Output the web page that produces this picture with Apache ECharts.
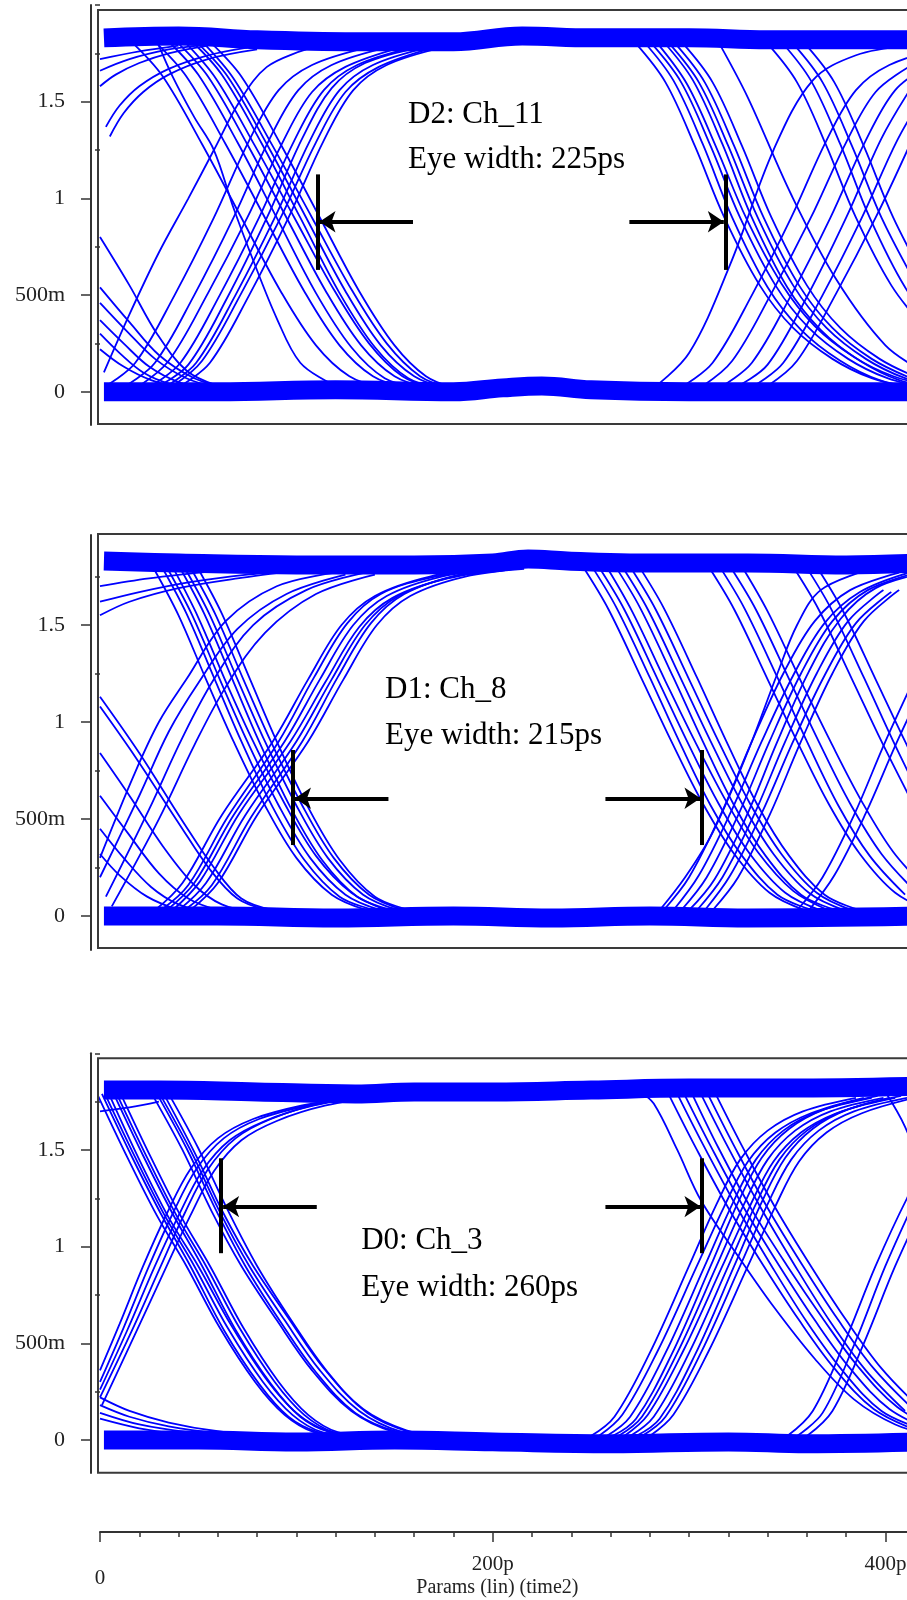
<!DOCTYPE html>
<html>
<head>
    <meta charset="UTF-8">
    <title>Eye diagrams D2 / D1 / D0</title>
    <script type="text/javascript" src="https://cdn.jsdelivr.net/npm/echarts@6/dist/echarts.min.js"></script>
</head>
<body style="margin: 0;background: #fff;">
<div id="chart" style="width: 907px;height: 1600px"></div>
<script type="text/javascript">
    // tick values / labels (time in ps, voltage in V)
    var timeTicks = [0, 200, 400];
    var timeTickLabels = ['0', '200p', '400p'];
    var voltTicks = [0, 0.5, 1, 1.5];
    var voltTickLabels = ['0', '500m', '1', '1.5'];
    var voltMinorTicks = [0.25, 0.75, 1.25, 1.75, 2];

    var channelNames = ['D2: Ch_11', 'D1: Ch_8', 'D0: Ch_3'];
    var eyeWidthTexts = ['Eye width: 225ps', 'Eye width: 215ps', 'Eye width: 260ps'];

    // ---- D2 : Ch_11 ----
    var d2High = [[2, 1.83], [40, 1.84], [80, 1.82], [130, 1.81], [180, 1.81], [215, 1.84], [250, 1.83], [300, 1.83], [340, 1.82], [380, 1.82], [420, 1.82]];
    var d2Low = [[2, 0.0], [60, 0.0], [120, 0.01], [180, 0.0], [205, 0.02], [225, 0.03], [250, 0.01], [300, 0.0], [360, 0.0], [420, 0.0]];
    var d2Edges = [
        [[0, 0.80], [15, 0.55], [29, 0.30], [44, 0.11], [60, 0.03]],
        [[0, 0.54], [15, 0.36], [30, 0.19], [48, 0.07], [65, 0.02]],
        [[0, 0.46], [14, 0.31], [28, 0.17], [44, 0.07], [60, 0.02]],
        [[0, 0.37], [12, 0.25], [25, 0.13], [40, 0.05], [55, 0.02]],
        [[0, 0.30], [10, 0.20], [22, 0.10], [36, 0.04], [50, 0.02]],
        [[0, 0.22], [12, 0.13], [26, 0.06], [42, 0.02]],
        [[0, 1.58], [8, 1.64], [20, 1.70], [35, 1.75], [55, 1.79]],
        [[5, 1.32], [12, 1.44], [22, 1.55], [35, 1.64], [55, 1.72], [80, 1.77]],
        [[3, 1.37], [10, 1.48], [20, 1.58], [35, 1.67], [55, 1.74], [75, 1.78]],
        [[0, 1.66], [15, 1.72], [35, 1.77], [50, 1.79]],
        [[0, 1.72], [20, 1.76], [40, 1.79]],
        [[2, 0.10], [15, 0.40], [30, 0.72], [45, 1.0], [58, 1.25], [71, 1.50], [85, 1.68], [105, 1.77]],
        [[30, 1.79], [37, 1.63], [48, 1.42], [58, 1.25], [68, 0.95], [78, 0.68], [90, 0.38], [102, 0.15], [118, 0.04]],
        // falling, first crossing
        [[17, 1.80], [32, 1.63], [52, 1.28], [72, 0.9], [92, 0.52], [110, 0.24], [127, 0.08], [144, 0.02]],
        [[29, 1.80], [44, 1.63], [64, 1.28], [84, 0.9], [104, 0.52], [122, 0.24], [139, 0.08], [156, 0.02]],
        [[35, 1.81], [50, 1.64], [70, 1.29], [90, 0.9], [110, 0.51], [128, 0.23], [145, 0.07], [162, 0.02]],
        [[40, 1.80], [55, 1.63], [75, 1.28], [95, 0.9], [115, 0.52], [133, 0.24], [150, 0.08], [167, 0.02]],
        [[44, 1.80], [59, 1.62], [79, 1.27], [99, 0.9], [119, 0.53], [137, 0.25], [154, 0.08], [170, 0.02]],
        [[47, 1.81], [62, 1.64], [82, 1.29], [102, 0.9], [122, 0.51], [140, 0.23], [157, 0.07], [173, 0.02]],
        [[50, 1.80], [65, 1.63], [85, 1.28], [105, 0.9], [125, 0.52], [143, 0.24], [160, 0.08], [176, 0.02]],
        [[53, 1.80], [68, 1.62], [88, 1.27], [108, 0.9], [128, 0.53], [146, 0.25], [163, 0.08], [178, 0.02]],
        [[57, 1.80], [72, 1.63], [92, 1.28], [112, 0.9], [132, 0.52], [150, 0.24], [166, 0.08], [180, 0.02]],
        // rising, first crossing
        [[3, 0.03], [18, 0.15], [38, 0.5], [58, 0.9], [76, 1.3], [91, 1.56], [108, 1.69], [136, 1.78]],
        [[13, 0.03], [28, 0.15], [48, 0.5], [68, 0.9], [86, 1.3], [101, 1.56], [118, 1.69], [146, 1.78]],
        [[20, 0.03], [35, 0.16], [55, 0.51], [75, 0.9], [93, 1.29], [108, 1.55], [125, 1.68], [153, 1.78]],
        [[26, 0.03], [41, 0.15], [61, 0.5], [81, 0.9], [99, 1.3], [114, 1.56], [131, 1.69], [159, 1.78]],
        [[30, 0.03], [45, 0.14], [65, 0.49], [85, 0.9], [103, 1.31], [118, 1.57], [135, 1.70], [163, 1.78]],
        [[34, 0.03], [49, 0.15], [69, 0.5], [89, 0.9], [107, 1.3], [122, 1.56], [139, 1.69], [167, 1.78]],
        [[37, 0.03], [52, 0.16], [72, 0.51], [92, 0.9], [110, 1.29], [125, 1.55], [142, 1.68], [170, 1.78]],
        [[41, 0.03], [56, 0.15], [76, 0.5], [96, 0.9], [114, 1.3], [129, 1.56], [146, 1.69], [174, 1.78]],
        // falling, second crossing
        [[273, 1.80], [288, 1.60], [303, 1.27], [318, 0.9], [336, 0.55], [353, 0.33], [373, 0.17], [393, 0.07], [413, 0.02]],
        [[277, 1.81], [292, 1.61], [307, 1.28], [322, 0.9], [340, 0.54], [357, 0.32], [377, 0.16], [397, 0.06], [417, 0.02]],
        [[281, 1.80], [296, 1.60], [311, 1.27], [326, 0.9], [344, 0.55], [361, 0.33], [381, 0.17], [401, 0.07], [421, 0.02]],
        [[284, 1.80], [299, 1.59], [314, 1.26], [329, 0.9], [347, 0.56], [364, 0.34], [384, 0.18], [404, 0.08], [424, 0.03]],
        [[287, 1.81], [302, 1.61], [317, 1.28], [332, 0.9], [350, 0.54], [367, 0.32], [387, 0.16], [407, 0.06], [427, 0.02]],
        [[290, 1.80], [305, 1.60], [320, 1.27], [335, 0.9], [353, 0.55], [370, 0.33], [390, 0.17], [410, 0.07], [430, 0.02]],
        [[293, 1.80], [308, 1.60], [323, 1.27], [338, 0.9], [356, 0.55], [373, 0.33], [393, 0.17], [413, 0.07]],
        [[297, 1.80], [312, 1.60], [327, 1.27], [342, 0.9], [360, 0.55], [377, 0.33], [397, 0.17], [417, 0.07]],
        [[340, 1.80], [355, 1.60], [370, 1.27], [385, 0.9], [403, 0.55], [420, 0.33]],
        [[347, 1.81], [362, 1.61], [377, 1.28], [392, 0.9], [410, 0.54], [427, 0.32]],
        [[353, 1.80], [368, 1.60], [383, 1.27], [398, 0.9], [416, 0.55]],
        [[359, 1.80], [374, 1.60], [389, 1.27], [404, 0.9], [422, 0.55]],
        [[316, 1.79], [330, 1.52], [352, 1.02], [375, 0.58], [400, 0.24], [420, 0.10]],
        // rising, second crossing
        [[282, 0.02], [300, 0.20], [321, 0.66], [343, 1.25], [363, 1.61], [385, 1.74], [411, 1.79]],
        [[297, 0.03], [312, 0.15], [332, 0.5], [352, 0.9], [370, 1.3], [385, 1.56], [402, 1.69], [430, 1.78]],
        [[307, 0.03], [322, 0.16], [342, 0.51], [362, 0.9], [380, 1.29], [395, 1.55], [412, 1.68]],
        [[317, 0.03], [332, 0.15], [352, 0.5], [372, 0.9], [390, 1.3], [405, 1.56], [422, 1.69]],
        [[325, 0.03], [340, 0.14], [360, 0.49], [380, 0.9], [398, 1.31], [413, 1.57]],
        [[333, 0.03], [348, 0.15], [368, 0.5], [388, 0.9], [406, 1.3], [421, 1.56]],
        [[340, 0.03], [355, 0.16], [375, 0.51], [395, 0.9], [413, 1.29]]
    ];

    // ---- D1 : Ch_8 ----
    var d1High = [[2, 1.83], [40, 1.82], [100, 1.81], [160, 1.81], [200, 1.82], [218, 1.84], [238, 1.83], [270, 1.82], [330, 1.82], [380, 1.81], [420, 1.82]];
    var d1Low = [[2, 0.0], [60, 0.0], [120, -0.01], [180, 0.0], [230, -0.01], [280, 0.0], [330, -0.01], [420, 0.0]];
    var d1Edges = [
        [[0, 1.13], [20, 0.84], [42, 0.49], [58, 0.25], [72, 0.09], [88, 0.03]],
        [[0, 1.08], [18, 0.82], [40, 0.48], [56, 0.24], [70, 0.09], [85, 0.03]],
        [[0, 0.84], [15, 0.62], [32, 0.36], [48, 0.16], [62, 0.06], [78, 0.02]],
        [[0, 0.62], [14, 0.43], [30, 0.22], [45, 0.09], [60, 0.03]],
        [[0, 0.45], [12, 0.30], [26, 0.15], [40, 0.06], [55, 0.02]],
        [[0, 0.32], [10, 0.21], [24, 0.10], [40, 0.03]],
        [[0, 0.30], [17, 0.72], [30, 1.0], [44, 1.22], [64, 1.52], [90, 1.70], [120, 1.77]],
        [[0, 0.20], [20, 0.62], [35, 0.95], [50, 1.20], [70, 1.48], [95, 1.66], [125, 1.76]],
        [[3, 0.10], [25, 0.55], [42, 0.92], [58, 1.22], [78, 1.50], [105, 1.68], [135, 1.77]],
        [[6, 0.05], [30, 0.50], [48, 0.88], [64, 1.18], [84, 1.46], [110, 1.66], [140, 1.76]],
        [[0, 1.62], [20, 1.67], [45, 1.72], [75, 1.76], [110, 1.79]],
        [[0, 1.70], [25, 1.74], [60, 1.78]],
        [[0, 1.55], [15, 1.62], [40, 1.69], [70, 1.74], [100, 1.78]],
        // falling band
        [[28, 1.78], [40, 1.55], [54, 1.22], [68, 0.9], [84, 0.57], [100, 0.30], [118, 0.11], [136, 0.03]],
        [[32, 1.79], [44, 1.56], [58, 1.23], [72, 0.9], [88, 0.56], [104, 0.29], [122, 0.10], [140, 0.03]],
        [[35, 1.78], [47, 1.55], [61, 1.22], [75, 0.9], [91, 0.57], [107, 0.30], [125, 0.11], [143, 0.03]],
        [[38, 1.78], [50, 1.54], [64, 1.21], [78, 0.9], [94, 0.58], [110, 0.31], [128, 0.12], [146, 0.03]],
        [[41, 1.79], [53, 1.56], [67, 1.23], [81, 0.9], [97, 0.56], [113, 0.29], [131, 0.10], [149, 0.03]],
        [[44, 1.78], [56, 1.55], [70, 1.22], [84, 0.9], [100, 0.57], [116, 0.30], [134, 0.11], [152, 0.03]],
        [[47, 1.78], [59, 1.55], [73, 1.22], [87, 0.9], [103, 0.57], [119, 0.30], [137, 0.11], [155, 0.03]],
        [[50, 1.79], [62, 1.56], [76, 1.23], [90, 0.9], [106, 0.56], [122, 0.29], [140, 0.10], [158, 0.03]],
        // rising band
        [[28, 0.03], [42, 0.17], [62, 0.52], [88, 0.9], [106, 1.22], [123, 1.50], [140, 1.65], [168, 1.75], [198, 1.79]],
        [[31, 0.03], [45, 0.16], [65, 0.51], [91, 0.9], [109, 1.23], [126, 1.51], [143, 1.66], [171, 1.75], [201, 1.79]],
        [[34, 0.03], [48, 0.17], [68, 0.52], [94, 0.9], [112, 1.22], [129, 1.50], [146, 1.65], [174, 1.75], [204, 1.79]],
        [[37, 0.03], [51, 0.18], [71, 0.53], [97, 0.9], [115, 1.21], [132, 1.49], [149, 1.64], [177, 1.74], [207, 1.79]],
        [[40, 0.03], [54, 0.17], [74, 0.52], [100, 0.9], [118, 1.22], [135, 1.50], [152, 1.65], [180, 1.75], [210, 1.79]],
        [[43, 0.03], [57, 0.16], [77, 0.51], [103, 0.9], [121, 1.23], [138, 1.51], [155, 1.66], [183, 1.76], [213, 1.80]],
        [[46, 0.03], [60, 0.17], [80, 0.52], [106, 0.9], [124, 1.22], [141, 1.50], [158, 1.65], [186, 1.75], [216, 1.79]],
        // falling, right side
        [[246, 1.80], [259, 1.58], [276, 1.22], [291, 0.9], [307, 0.58], [323, 0.32], [341, 0.12], [359, 0.03]],
        [[250, 1.81], [263, 1.59], [280, 1.23], [295, 0.9], [311, 0.57], [327, 0.31], [345, 0.11], [363, 0.03]],
        [[254, 1.80], [267, 1.58], [284, 1.22], [299, 0.9], [315, 0.58], [331, 0.32], [349, 0.12], [367, 0.03]],
        [[258, 1.80], [271, 1.57], [288, 1.21], [303, 0.9], [319, 0.59], [335, 0.33], [353, 0.13], [371, 0.03]],
        [[262, 1.81], [275, 1.59], [292, 1.23], [307, 0.9], [323, 0.57], [339, 0.31], [357, 0.11], [375, 0.03]],
        [[266, 1.80], [279, 1.58], [296, 1.22], [311, 0.9], [327, 0.58], [343, 0.32], [361, 0.12], [379, 0.03]],
        [[270, 1.80], [283, 1.58], [300, 1.22], [315, 0.9], [331, 0.58], [347, 0.32], [365, 0.12], [383, 0.03]],
        [[274, 1.81], [287, 1.59], [304, 1.23], [319, 0.9], [335, 0.57], [351, 0.31], [369, 0.11], [387, 0.03]],
        [[310, 1.80], [323, 1.58], [340, 1.22], [355, 0.9], [371, 0.58], [387, 0.32], [405, 0.12], [423, 0.03]],
        [[315, 1.81], [328, 1.59], [345, 1.23], [360, 0.9], [376, 0.57], [392, 0.31], [410, 0.11]],
        [[321, 1.80], [334, 1.58], [351, 1.22], [366, 0.9], [382, 0.58], [398, 0.32], [416, 0.12]],
        [[327, 1.80], [340, 1.57], [357, 1.21], [372, 0.9], [388, 0.59], [404, 0.33], [422, 0.13]],
        [[353, 1.80], [366, 1.58], [383, 1.22], [398, 0.9], [414, 0.58]],
        [[359, 1.81], [372, 1.59], [389, 1.23], [404, 0.9], [420, 0.57]],
        [[365, 1.80], [378, 1.58], [395, 1.22], [410, 0.9], [426, 0.58]],
        // rising, right side
        [[285, 0.03], [298, 0.20], [312, 0.43], [330, 0.85], [345, 1.25], [355, 1.50], [367, 1.68], [390, 1.78]],
        [[287, 0.03], [300, 0.20], [316, 0.52], [332, 0.9], [348, 1.25], [364, 1.52], [382, 1.68], [407, 1.77]],
        [[292, 0.03], [305, 0.21], [321, 0.53], [337, 0.9], [353, 1.24], [369, 1.51], [387, 1.67], [412, 1.77]],
        [[296, 0.03], [309, 0.20], [325, 0.52], [341, 0.9], [357, 1.25], [373, 1.52], [391, 1.68], [416, 1.77]],
        [[300, 0.03], [313, 0.19], [329, 0.51], [345, 0.9], [361, 1.26], [377, 1.53], [395, 1.69], [420, 1.77]],
        [[304, 0.03], [317, 0.20], [333, 0.52], [349, 0.9], [365, 1.25], [381, 1.52], [399, 1.68]],
        [[308, 0.03], [321, 0.21], [337, 0.53], [353, 0.9], [369, 1.24], [385, 1.51], [403, 1.67]],
        [[312, 0.03], [325, 0.20], [341, 0.52], [357, 0.9], [373, 1.25], [389, 1.52], [407, 1.68]],
        [[355, 0.03], [368, 0.20], [384, 0.52], [400, 0.9], [416, 1.25]],
        [[361, 0.03], [374, 0.21], [390, 0.53], [406, 0.9], [422, 1.24]]
    ];

    // ---- D0 : Ch_3 ----
    var d0High = [[2, 1.81], [30, 1.81], [80, 1.80], [130, 1.79], [160, 1.80], [200, 1.80], [250, 1.81], [300, 1.82], [350, 1.82], [420, 1.83]];
    var d0Low = [[2, 0.0], [50, 0.0], [100, -0.01], [150, 0.0], [200, -0.01], [260, -0.02], [320, -0.01], [360, -0.02], [420, -0.01]];
    var d0Edges = [
        // falling band 1
        [[-1, 1.78], [14, 1.46], [29, 1.16], [44, 0.9], [61, 0.58], [79, 0.30], [94, 0.13], [109, 0.04], [129, 0.01]],
        [[1, 1.79], [16, 1.47], [31, 1.17], [46, 0.9], [63, 0.57], [81, 0.29], [96, 0.12], [111, 0.04], [131, 0.01]],
        [[3, 1.78], [18, 1.46], [33, 1.16], [48, 0.9], [65, 0.58], [83, 0.30], [98, 0.13], [113, 0.04], [133, 0.01]],
        [[5, 1.78], [20, 1.45], [35, 1.15], [50, 0.9], [67, 0.59], [85, 0.31], [100, 0.14], [115, 0.05], [135, 0.01]],
        [[7, 1.79], [22, 1.47], [37, 1.17], [52, 0.9], [69, 0.57], [87, 0.29], [102, 0.12], [117, 0.04], [137, 0.01]],
        [[9, 1.78], [24, 1.46], [39, 1.16], [54, 0.9], [71, 0.58], [89, 0.30], [104, 0.13], [119, 0.04], [139, 0.01]],
        [[11, 1.78], [26, 1.46], [41, 1.16], [56, 0.9], [73, 0.58], [91, 0.30], [106, 0.13], [121, 0.04], [141, 0.01]],
        // falling band 2
        [[27, 1.78], [42, 1.50], [57, 1.18], [72, 0.9], [90, 0.62], [108, 0.36], [128, 0.15], [150, 0.04], [172, 0.01]],
        [[29, 1.79], [44, 1.51], [59, 1.19], [74, 0.9], [92, 0.61], [110, 0.35], [130, 0.14], [152, 0.04], [174, 0.01]],
        [[31, 1.78], [46, 1.50], [61, 1.18], [76, 0.9], [94, 0.62], [112, 0.36], [132, 0.15], [154, 0.04], [176, 0.01]],
        [[33, 1.78], [48, 1.49], [63, 1.17], [78, 0.9], [96, 0.63], [114, 0.37], [134, 0.16], [156, 0.05], [178, 0.01]],
        [[35, 1.79], [50, 1.51], [65, 1.19], [80, 0.9], [98, 0.61], [116, 0.35], [136, 0.14], [158, 0.04], [180, 0.01]],
        // rising from the left edge
        [[0, 0.36], [10, 0.60], [22, 0.9], [34, 1.17], [46, 1.40], [60, 1.56], [78, 1.66], [103, 1.73], [133, 1.78]],
        [[0, 0.30], [12, 0.58], [25, 0.9], [37, 1.17], [49, 1.40], [63, 1.56], [81, 1.66], [106, 1.73], [136, 1.78]],
        [[0, 0.26], [14, 0.57], [28, 0.9], [40, 1.16], [52, 1.39], [66, 1.55], [84, 1.65], [109, 1.73], [139, 1.78]],
        [[0, 0.22], [16, 0.56], [31, 0.9], [43, 1.17], [55, 1.40], [69, 1.56], [87, 1.66], [112, 1.74], [142, 1.78]],
        [[1, 0.18], [18, 0.55], [34, 0.9], [46, 1.16], [58, 1.39], [72, 1.55], [90, 1.65], [115, 1.73], [145, 1.78]],
        [[0, 0.22], [15, 0.15], [35, 0.09], [60, 0.045], [90, 0.02]],
        [[0, 0.18], [15, 0.12], [35, 0.07], [60, 0.035], [85, 0.02]],
        [[0, 0.14], [20, 0.08], [45, 0.04], [70, 0.02]],
        [[0, 0.11], [20, 0.06], [40, 0.03]],
        [[0, 1.70], [15, 1.72], [30, 1.75]],
        // falling, right side
        [[275, 1.80], [282, 1.74], [294, 1.50], [306, 1.24], [325, 0.95], [343, 0.69], [364, 0.42], [384, 0.21], [405, 0.08], [425, 0.02]],
        [[290, 1.78], [303, 1.52], [320, 1.2], [338, 0.9], [356, 0.62], [374, 0.37], [394, 0.16], [416, 0.05]],
        [[294, 1.79], [307, 1.53], [324, 1.21], [342, 0.9], [360, 0.61], [378, 0.36], [398, 0.15], [420, 0.05]],
        [[298, 1.78], [311, 1.52], [328, 1.2], [346, 0.9], [364, 0.62], [382, 0.37], [402, 0.16], [424, 0.05]],
        [[302, 1.78], [315, 1.51], [332, 1.19], [350, 0.9], [368, 0.63], [386, 0.38], [406, 0.17], [428, 0.05]],
        [[306, 1.79], [319, 1.53], [336, 1.21], [354, 0.9], [372, 0.61], [390, 0.36], [410, 0.15]],
        [[310, 1.78], [323, 1.52], [340, 1.2], [358, 0.9], [376, 0.62], [394, 0.37], [414, 0.16]],
        [[314, 1.78], [327, 1.52], [344, 1.2], [362, 0.9], [380, 0.62], [398, 0.37], [418, 0.16]],
        // rising, right side
        [[250, 0.02], [262, 0.12], [280, 0.45], [300, 0.9], [314, 1.22], [326, 1.45], [340, 1.60], [358, 1.70], [385, 1.77]],
        [[254, 0.02], [266, 0.13], [284, 0.46], [304, 0.9], [318, 1.21], [330, 1.44], [344, 1.59], [362, 1.69], [389, 1.77]],
        [[258, 0.02], [270, 0.12], [288, 0.45], [308, 0.9], [322, 1.22], [334, 1.45], [348, 1.60], [366, 1.70], [393, 1.77]],
        [[261, 0.02], [273, 0.11], [291, 0.44], [311, 0.9], [325, 1.23], [337, 1.46], [351, 1.61], [369, 1.71], [396, 1.78]],
        [[264, 0.02], [276, 0.12], [294, 0.45], [314, 0.9], [328, 1.22], [340, 1.45], [354, 1.60], [372, 1.70], [399, 1.77]],
        [[267, 0.02], [279, 0.13], [297, 0.46], [317, 0.9], [331, 1.21], [343, 1.44], [357, 1.59], [375, 1.69], [402, 1.77]],
        [[270, 0.02], [282, 0.12], [300, 0.45], [320, 0.9], [334, 1.22], [346, 1.45], [360, 1.60], [378, 1.70], [405, 1.77]],
        [[273, 0.02], [285, 0.11], [303, 0.44], [323, 0.9], [337, 1.23], [349, 1.46], [363, 1.61], [381, 1.71], [408, 1.78]],
        [[276, 0.02], [288, 0.12], [306, 0.45], [326, 0.9], [340, 1.22], [352, 1.45], [366, 1.60], [384, 1.70], [411, 1.77]],
        [[280, 0.02], [292, 0.13], [310, 0.46], [330, 0.9], [344, 1.21], [356, 1.44], [370, 1.59], [388, 1.69], [415, 1.77]],
        [[350, 0.02], [363, 0.15], [379, 0.5], [395, 0.9], [411, 1.25], [425, 1.5]],
        [[355, 0.02], [368, 0.14], [384, 0.49], [400, 0.9], [416, 1.26]],
        [[360, 0.02], [373, 0.15], [389, 0.5], [405, 0.9], [421, 1.25]],
        [[400, 1.80], [410, 1.62], [420, 1.35]]
    ];

    // eye-width markers, in ps / V of each panel
    var eyeMarks = [
        {leftBar: 110.8, leftTip: 111.8, leftTail: 159.4, rightTail: 269.6, rightTip: 317.7, rightBar: 318.7, low: 0.63, high: 1.124, arrow: 0.879, textT: 156.9, textV: [1.434, 1.201]},
        {leftBar: 98.3, leftTip: 99.3, leftTail: 146.9, rightTail: 257.4, rightTip: 305.8, rightBar: 306.7, low: 0.366, high: 0.856, arrow: 0.607, textT: 145.2, textV: [1.168, 0.927]},
        {leftBar: 61.6, leftTip: 62.7, leftTail: 110.4, rightTail: 257.4, rightTip: 305.8, rightBar: 306.7, low: 0.966, high: 1.457, arrow: 1.207, textT: 133, textV: [1.028, 0.789]}
    ];

    var panels = [
        {high: d2High, low: d2Low, edges: d2Edges, top: 5, height: 420, min: -0.172, max: 2.0, boxTop: 10, boxHeight: 414},
        {high: d1High, low: d1Low, edges: d1Edges, top: 535, height: 415, min: -0.175, max: 1.964, boxTop: 534, boxHeight: 414},
        {high: d0High, low: d0Low, edges: d0Edges, top: 1053.3, height: 419.7, min: -0.171, max: 2.0, boxTop: 1058.3, boxHeight: 414.4}
    ];

    var BLUE = '#0000ff';
    var FONT = '"Liberation Serif", "Times New Roman", serif';
    var TIME_MAX = 420;
    var PLOT_LEFT = 100;
    var PLOT_WIDTH = 824.7;  // 1.9635 px per ps, runs past the right edge like the original

    var grids = [], xAxes = [], yAxes = [], series = [];

    panels.forEach(function (p, i) {
        grids[i] = {left: PLOT_LEFT, width: PLOT_WIDTH, top: p.top, height: p.height,
            containLabel: false, outerBoundsMode: 'none'};
        grids[i + 3] = {left: 98, width: 840, top: p.boxTop, height: p.boxHeight, show: true,
            borderColor: '#3a3a3a', borderWidth: 2, backgroundColor: 'transparent',
            containLabel: false, outerBoundsMode: 'none'};
        xAxes[i] = {gridIndex: i, type: 'value', min: 0, max: TIME_MAX, show: false};
        xAxes[i + 3] = {gridIndex: i + 3, type: 'value', min: 0, max: 1, show: false};
        yAxes[i] = {
            gridIndex: i, type: 'value', position: 'left', offset: 9, min: p.min, max: p.max,
            splitLine: {show: false},
            axisLine: {show: true, onZero: false, lineStyle: {color: '#333', width: 2}},
            axisTick: {show: true, length: 10, customValues: voltTicks, lineStyle: {color: '#333', width: 1.5}},
            axisLabel: {
                customValues: voltTicks, margin: 26, color: '#222', fontFamily: FONT, fontSize: 22,
                padding: [0, 0, 16, 0],
                formatter: function (v) {
                    var k = voltTicks.indexOf(v);
                    return k < 0 ? '' : voltTickLabels[k];
                }
            }
        };
        yAxes[i + 3] = {
            gridIndex: i, type: 'value', position: 'left', offset: 9, min: p.min, max: p.max,
            splitLine: {show: false}, axisLine: {show: false},
            axisTick: {show: true, length: 5, customValues: voltMinorTicks.filter(function (v) { return v <= p.max; }),
                lineStyle: {color: '#333', width: 1.5}},
            axisLabel: {show: false}
        };
        yAxes[i + 6] = {gridIndex: i + 3, type: 'value', min: 0, max: 1, show: false};

        series.push(railSeries(p.high, i));
        series.push(railSeries(p.low, i));
        p.edges.forEach(function (e) {
            series.push(edgeSeries(e, i));
        });
        series.push(markerSeries(eyeMarks[i], i));
    });

    // shared time axis at the bottom
    grids[6] = {left: PLOT_LEFT, width: PLOT_WIDTH, top: 1500, height: 32, containLabel: false, outerBoundsMode: 'none'};
    xAxes[6] = {
        gridIndex: 6, type: 'value', position: 'bottom', min: 0, max: TIME_MAX, interval: 20,
        splitLine: {show: false},
        axisLine: {show: true, onZero: false, lineStyle: {color: '#333', width: 2}},
        axisTick: {show: true, length: 5, lineStyle: {color: '#333', width: 1.5}},
        axisLabel: {show: false}
    };
    xAxes[7] = {
        gridIndex: 6, type: 'value', position: 'bottom', min: 0, max: TIME_MAX,
        splitLine: {show: false}, axisLine: {show: false},
        axisTick: {show: true, length: 10, customValues: timeTicks, lineStyle: {color: '#333', width: 1.5}},
        axisLabel: {
            customValues: timeTicks, margin: 22, color: '#222', fontFamily: FONT, fontSize: 21,
            formatter: function (v) {
                var k = timeTicks.indexOf(v);
                if (k < 0) return '';
                return k === 0 ? '{z|' + timeTickLabels[k] + '}' : timeTickLabels[k];
            },
            rich: {z: {fontFamily: FONT, fontSize: 21, color: '#222', padding: [14, 0, 0, 0]}}
        },
        name: 'Params (lin) (time2)', nameLocation: 'middle', nameGap: 46, nameMoveOverlap: false,
        nameTextStyle: {fontFamily: FONT, fontSize: 20, color: '#222', padding: [0, 30, 0, 0]}
    };
    yAxes[9] = {gridIndex: 6, type: 'value', show: false};

    function railSeries(pts, i) {
        return {
            type: 'line', xAxisIndex: i, yAxisIndex: i, data: pts, smooth: 0.4,
            symbol: 'none', silent: true, animation: false, z: 3,
            lineStyle: {color: BLUE, width: 19, cap: 'butt', join: 'round'}
        };
    }

    function edgeSeries(pts, i) {
        return {
            type: 'line', xAxisIndex: i, yAxisIndex: i, data: pts, smooth: 0.35,
            symbol: 'none', silent: true, animation: false, z: 3,
            lineStyle: {color: BLUE, width: 1.8}
        };
    }

    function markerSeries(m, i) {
        return {
            type: 'line', xAxisIndex: i, yAxisIndex: i, data: [], silent: true, animation: false, z: 5,
            markLine: {
                silent: true, animation: false, symbol: ['none', 'none'],
                label: {show: false},
                lineStyle: {color: '#000', width: 4, type: 'solid'},
                emphasis: {disabled: true},
                data: [
                    [{coord: [m.leftBar, m.low]}, {coord: [m.leftBar, m.high]}],
                    [{coord: [m.rightBar, m.low]}, {coord: [m.rightBar, m.high]}],
                    [{coord: [m.leftTail, m.arrow]}, {coord: [m.leftTip, m.arrow], symbol: 'arrow', symbolSize: 16}],
                    [{coord: [m.rightTail, m.arrow]}, {coord: [m.rightTip, m.arrow], symbol: 'arrow', symbolSize: 16}]
                ]
            }
        };
    }

    var chart = echarts.init(document.getElementById('chart'), null, {renderer: 'canvas'});
    chart.setOption({
        backgroundColor: '#fff',
        animation: false,
        grid: grids,
        xAxis: xAxes,
        yAxis: yAxes,
        series: series
    });

    // panel captions, placed through each panel's own scales
    var texts = [];
    eyeMarks.forEach(function (m, i) {
        var lines = [channelNames[i], eyeWidthTexts[i]];
        lines.forEach(function (txt, j) {
            var pt = chart.convertToPixel({xAxisIndex: i, yAxisIndex: i}, [m.textT, m.textV[j]]);
            texts.push({
                type: 'text', x: pt[0], y: pt[1], z: 10, silent: true,
                style: {text: txt, fill: '#000', fontFamily: FONT, fontSize: 31, align: 'left', verticalAlign: 'middle'}
            });
        });
    });
    chart.setOption({graphic: texts});
</script>
</body>
</html>
